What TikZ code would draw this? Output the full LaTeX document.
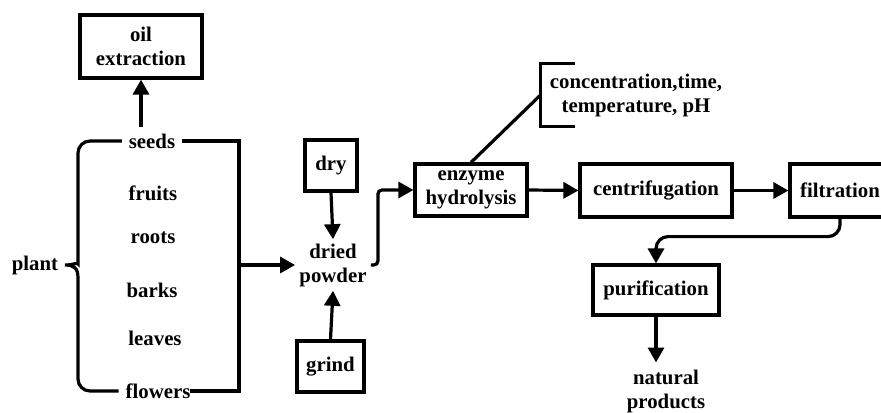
\documentclass[tikz,border=0pt]{standalone}
\usepackage{fontspec}
\setmainfont{Liberation Serif}
\usetikzlibrary{arrows.meta}

\begin{document}
\begin{tikzpicture}[x=0.5pt, y=-0.5pt,
        txt/.style   = {font=\bfseries\fontsize{10.4}{12}\selectfont, align=center},
        box/.style   = {txt, draw, line width=1.6pt, inner sep=0pt},
        line/.style  = {line width=1.6pt},
        arr/.style   = {line, -{Triangle[length=7.5pt, width=8pt]}}]
    \useasboundingbox (0,0) rectangle (881,412);
    \clip (0,0) rectangle (881,412);

    \node[box, minimum width=61pt, minimum height=31.5pt] (oil)    at (141, 46.5) {oil\\extraction};
    \node[txt]                                            (plant)  at ( 35,265  ) {plant};
    \node[txt]                                            (seeds)  at (152,141  ) {seeds};
    \node[txt]                                            (fruits) at (153,193  ) {fruits};
    \node[txt]                                            (roots)  at (153,238  ) {roots};
    \node[txt]                                            (barks)  at (152,290  ) {barks};
    \node[txt]                                            (leaves) at (155,338  ) {leaves};
    \node[txt]                                            (flowers)at (158,391  ) {flowers};
    \node[box, minimum width=26pt,  minimum height=25.5pt](dry)    at (331,165.5) {dry};
    \node[txt, inner sep=2pt]                             (powder) at (333,265  ) {dried\\powder};
    \node[box, minimum width=33.5pt,minimum height=25.5pt](grind)  at (330.5,366.5) {grind};
    \node[box, minimum width=56pt,  minimum height=26pt]  (enzyme) at (471,190  ) {enzyme\\hydrolysis};
    \node[txt, inner xsep=4.5pt, inner ysep=5pt]          (cond)   at (636, 95  ) {concentration,time,\\temperature, pH};
    \node[box, minimum width=76pt,  minimum height=26.5pt](centri) at (656,190.5) {centrifugation};
    \node[box, minimum width=50pt,  minimum height=26.5pt](filt)   at (840,190.5) {filtration};
    \node[box, minimum width=63pt,  minimum height=25pt]  (purif)  at (656,290  ) {purification};
    \node[txt]                                            (natural)at (666,391  ) {natural\\products};
    \coordinate (join) at (239,265);

    \draw[arr] (oil.south |- seeds.north) -- (oil.south);
    \draw[line, rounded corners=6pt] (seeds.west) -| (78,252) [sharp corners]
        .. controls (78,262) and (74,265) .. (plant.east -| 65,0)
        .. controls (74,265) and (78,268) .. (78,278) [rounded corners=6pt] |- (flowers.west);
    \draw[line] (seeds.east) -| (join) |- ([xshift=-3.5pt]flowers.east);
    \draw[arr] (join) -- (powder.west);
    \draw[arr] (dry.south) -- (powder.north);
    \draw[arr] (grind.north) -- (powder.south);
    \draw[arr, rounded corners=2pt] (powder.east) -- ++(7,0) |- (enzyme.west);
    \draw[line] ([xshift=17pt]cond.north west) -| (cond.south west) -- ([xshift=17pt]cond.south west);
    \draw[line] (enzyme.north) -- (cond.west);
    \draw[arr] (enzyme.east) -- (centri.west);
    \draw[arr] (centri.east) -- (filt.west);
    \draw[arr, rounded corners=6pt] (filt.south) -- ++(0,18) -| (purif.north);
    \draw[arr] (purif.south) -- (purif.south |- natural.north);
\end{tikzpicture}
\end{document}
